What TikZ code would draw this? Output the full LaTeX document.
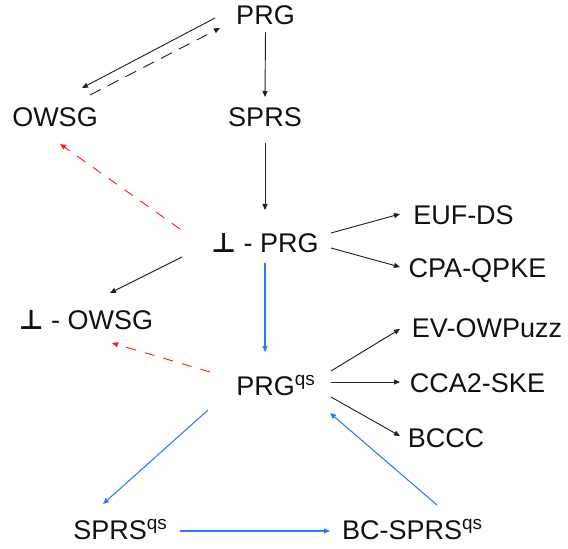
\documentclass[tikz,border=0pt]{standalone}
\usepackage{fontspec}
\setmainfont{Liberation Sans}
\newfontfamily\symfont{DejaVu Sans}
\usepackage{xcolor}
\usepackage{tikz}
\usetikzlibrary{arrows.meta}
\definecolor{ink}{HTML}{111111}
\definecolor{edge}{HTML}{222222}
\definecolor{qsblue}{HTML}{2B7BF7}
\definecolor{sepred}{HTML}{FF1A1A}
\newcommand{\perpsym}{{\symfont\bfseries ⊥}}

\begin{document}
\begin{tikzpicture}[x=0.75pt,y=-0.75pt,
  every node/.style={font=\fontsize{20.25}{24}\selectfont,text=ink,inner sep=0pt,
    text height=14.5pt,text depth=0pt},
  e/.style={-{Triangle[length=4.5pt,width=3.8pt]},line width=0.7pt,edge},
  q/.style={e,qsblue,line width=0.8pt},
  sep/.style={e,sepred,dash pattern=on 7.5pt off 7pt},
  imp/.style={e,dash pattern=on 9pt off 6pt}]
  \useasboundingbox (0,0) rectangle (568,549);
  \node (prg) at (265.5,15) {PRG};
  \node (owsg) at (55,117) {OWSG};
  \node (sprs) at (265,117) {SPRS};
  \node (tprg) at (265,242.5) {\perpsym{} - PRG};
  \node (tows) at (86,320) {\perpsym{} - OWSG};
  \node (euf) at (463.5,215) {EUF-DS};
  \node (cpa) at (477.5,268) {CPA-QPKE};
  \node (evow) at (487,328) {EV-OWPuzz};
  \node (cca) at (477.5,383) {CCA2-SKE};
  \node (bccc) at (446,438) {BCCC};
  \node (prgqs) at (276,386) {PRG\textsuperscript{qs}};
  \node (sprsqs) at (120.5,530) {SPRS\textsuperscript{qs}};
  \node (bcsprs) at (412.5,530) {BC-SPRS\textsuperscript{qs}};
  % top part
  \draw[e] ([shift={(-50.5,3)}]prg.center) -- ([shift={(27,-29)}]owsg.center);
  \draw[imp] ([shift={(35,-22)}]owsg.center) -- ([shift={(-45.5,13)}]prg.center);
  \draw[e] ([shift={(0,17)}]prg.center) -- ([shift={(0,-20)}]sprs.center);
  \draw[e] ([shift={(0,26)}]sprs.center) -- ([shift={(0,-32.5)}]tprg.center);
  \draw[sep] ([shift={(-85,-13.5)}]tprg.center) -- ([shift={(5,27)}]owsg.center);
  \draw[e] ([shift={(-83,14.5)}]tprg.center) -- ([shift={(24,-27)}]tows.center);
  \draw[e] ([shift={(66,-9.5)}]tprg.center) -- ([shift={(-63.5,-1)}]euf.center);
  \draw[e] ([shift={(66,5.5)}]tprg.center) -- ([shift={(-77.5,-1)}]cpa.center);
  % qs part
  \draw[q] ([shift={(0,20.5)}]tprg.center) -- ([shift={(-11,-34)}]prgqs.center);
  \draw[sep] ([shift={(-66,-14)}]prgqs.center) -- ([shift={(26,23)}]tows.center);
  \draw[e] ([shift={(55,-15)}]prgqs.center) -- ([shift={(-87,1)}]evow.center);
  \draw[e] ([shift={(55,-4)}]prgqs.center) -- ([shift={(-77.5,-1)}]cca.center);
  \draw[e] ([shift={(55,11)}]prgqs.center) -- ([shift={(-46,-2)}]bccc.center);
  \draw[q] ([shift={(-68,24)}]prgqs.center) -- ([shift={(-17.5,-26)}]sprsqs.center);
  \draw[q] ([shift={(59.5,1)}]sprsqs.center) -- ([shift={(-82.5,1)}]bcsprs.center);
  \draw[q] ([shift={(24.5,-25)}]bcsprs.center) -- ([shift={(54,27)}]prgqs.center);
\end{tikzpicture}
\end{document}
